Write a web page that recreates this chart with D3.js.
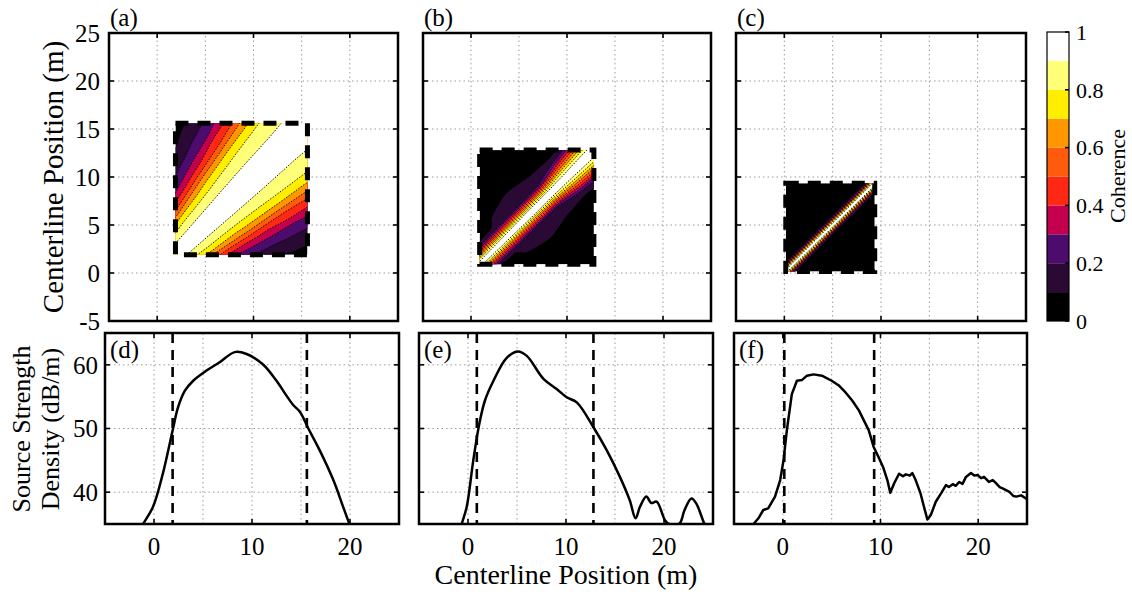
<!DOCTYPE html>
<head>
  <meta charset="utf-8">
</head>
<style>

body {
  margin: 0;
  background: #fff;
}

svg, text {
  font-family: "Liberation Serif", "Times New Roman", "DejaVu Serif", serif;
  fill: #000;
}

.grid line {
  stroke: #9a9a9a;
  stroke-width: 1;
  stroke-dasharray: 1.5,3;
}

.frame {
  fill: none;
  stroke: #000;
  stroke-width: 2.5;
}

.tick {
  stroke: #000;
  stroke-width: 1.6;
}

</style>
<body>
<script src="https://d3js.org/d3.v7.min.js"></script>
<script>
var width = 1132,
    height = 597;

// coherence contour levels and the colour of each band (0-0.1 ... 0.9-1)
var cohLevels = [0.1, 0.2, 0.3, 0.4, 0.5, 0.6, 0.7, 0.8, 0.9];
var cohColors = ["#000000", "#2a0a35", "#4c0b6d", "#c3004e", "#ff2814",
                 "#ff5b0c", "#ff9800", "#ffee00", "#ffff78", "#ffffff"];
var cbTicks = [0, 0.2, 0.4, 0.6, 0.8, 1];

// axes
var posDomain = [-5, 25];
var ssdDomain = [35, 65];
var xTickVals = [0, 10, 20];
var xGridVals = [0, 5, 10, 15, 20];
var mapYTicks = [-5, 0, 5, 10, 15, 20, 25];
var mapYGrid = [0, 5, 10, 15, 20];
var ssdYTicks = [40, 50, 60];

// source region limits (m) for each column
var regionA = [1.9, 15.6];
var regionB = [0.9, 12.8];
var regionC = [0.15, 9.35];

// coherence tables: rows = mean position of the two points,
// columns = separation between them (matrix is symmetric about the diagonal)
var sepA = [0, 1, 2, 3, 4, 5, 6, 7, 8, 9, 10, 11, 12, 13, 14];
var meanA = [1, 4, 7, 10, 13, 16];
var cohA = [
  [1, 0.90, 0.77, 0.53, 0.31, 0.18, 0.09, 0.04, 0.02, 0.01, 0.01, 0.01, 0.01, 0.01, 0.01],
  [1, 0.93, 0.85, 0.76, 0.59, 0.42, 0.28, 0.19, 0.12, 0.07, 0.04, 0.03, 0.02, 0.02, 0.02],
  [1, 0.94, 0.89, 0.82, 0.74, 0.62, 0.47, 0.35, 0.26, 0.19, 0.14, 0.09, 0.06, 0.04, 0.03],
  [1, 0.96, 0.91, 0.86, 0.81, 0.74, 0.63, 0.50, 0.42, 0.31, 0.25, 0.19, 0.15, 0.11, 0.08],
  [1, 0.96, 0.92, 0.88, 0.84, 0.80, 0.73, 0.65, 0.54, 0.45, 0.38, 0.29, 0.24, 0.19, 0.16],
  [1, 0.97, 0.93, 0.90, 0.87, 0.83, 0.79, 0.74, 0.67, 0.58, 0.49, 0.42, 0.35, 0.28, 0.24]
];

var sepB = [0, 0.5, 1, 1.5, 2, 2.5, 3, 3.5, 4, 4.5, 5, 5.5, 6];
var meanB = [0, 2, 4, 6, 8, 10, 12, 14];
var cohB = [
  [1, 0.80, 0.50, 0.25, 0.10, 0.05, 0.03, 0.02, 0.02, 0.02, 0.02, 0.02, 0.02],
  [1, 0.86, 0.60, 0.35, 0.16, 0.08, 0.05, 0.04, 0.03, 0.03, 0.02, 0.02, 0.02],
  [1, 0.88, 0.64, 0.40, 0.20, 0.11, 0.11, 0.105, 0.09, 0.07, 0.05, 0.04, 0.03],
  [1, 0.90, 0.66, 0.42, 0.20, 0.13, 0.14, 0.14, 0.13, 0.11, 0.08, 0.05, 0.04],
  [1, 0.90, 0.68, 0.45, 0.22, 0.12, 0.12, 0.11, 0.10, 0.08, 0.06, 0.04, 0.03],
  [1, 0.92, 0.80, 0.64, 0.48, 0.32, 0.20, 0.12, 0.08, 0.05, 0.04, 0.03, 0.02],
  [1, 0.94, 0.85, 0.72, 0.58, 0.44, 0.30, 0.18, 0.12, 0.08, 0.05, 0.03, 0.02],
  [1, 0.95, 0.87, 0.75, 0.62, 0.48, 0.34, 0.22, 0.14, 0.09, 0.06, 0.04, 0.03]
];

var sepC = [0, 0.25, 0.5, 0.75, 1, 1.25, 1.5];
var meanC = [-1, 1, 3, 5, 7, 9, 11];
var cohC = [
  [1, 0.86, 0.58, 0.27, 0.09, 0.03, 0.01],
  [1, 0.87, 0.60, 0.29, 0.10, 0.03, 0.01],
  [1, 0.88, 0.62, 0.30, 0.10, 0.03, 0.01],
  [1, 0.88, 0.62, 0.30, 0.10, 0.03, 0.01],
  [1, 0.88, 0.63, 0.31, 0.11, 0.03, 0.01],
  [1, 0.89, 0.64, 0.32, 0.12, 0.04, 0.01],
  [1, 0.89, 0.64, 0.32, 0.12, 0.04, 0.01]
];

// source strength density (dB/m) along the centerline
var posD = [-1.6, -1.1, -0.1, 0.9, 1.9, 2.45, 3.14, 4.0, 5.36, 6.7, 8.25, 9.45, 11.1, 12.5, 13.5, 14.2, 14.9, 15.75, 16.9, 18.3, 19.3, 19.95, 20.4];
var ssdD = [33.5, 35, 37.7, 42.9, 49.7, 53.3, 55.9, 57.5, 59.1, 60.4, 62.0, 61.7, 60.1, 57.5, 55.2, 53.7, 52.6, 50.0, 46.6, 41.9, 37.7, 35, 33.5];

var posE = [-0.9, -0.64, -0.13, 0.54, 1.15, 1.73, 2.6, 3.95, 5.1, 6.0, 7.7, 9.05, 10.07, 11.1, 12.8, 14.15, 15.5, 16.5, 17.1, 17.55, 18.2, 18.7, 19.25, 20.1, 20.5, 21.0, 21.6, 22.1, 22.8, 23.3, 24.1, 24.5];
var ssdE = [33.5, 35, 37.7, 45.0, 50.7, 54.4, 57.5, 61.1, 62.1, 61.4, 57.8, 56.2, 54.9, 54.1, 50.2, 46.6, 42.4, 38.75, 35.9, 37.7, 39.3, 38.3, 38.5, 35.6, 35.0, 34.9, 35.1, 37.2, 39.0, 38.2, 35.1, 34];

var posF = [-3.3, -3.0, -2.5, -2.0, -1.5, -0.8, -0.27, 0.07, 0.41, 0.92, 1.44, 1.95, 2.47, 3.15, 4.0, 5.0, 5.7, 6.4, 7.1, 7.8, 8.8, 9.3, 9.8, 10.25, 10.7, 11.0, 11.4, 11.9, 12.3, 12.6, 13.0, 13.26, 13.6, 14.1, 14.45, 14.8, 15.15, 15.66, 16.2, 16.7, 17.0, 17.4, 17.7, 18.05, 18.4, 18.75, 19.26, 19.6, 19.94, 20.3, 20.6, 21.1, 21.5, 21.8, 22.2, 22.5, 23.2, 23.6, 23.9, 24.4, 24.9, 25.2];
var ssdF = [34.5, 35, 35.9, 37.2, 37.45, 39.3, 41.9, 45.0, 49.7, 55.4, 57.5, 57.6, 58.3, 58.5, 58.3, 57.5, 56.8, 55.7, 54.4, 52.8, 49.7, 47.1, 45.5, 44.0, 41.9, 39.9, 41.4, 42.9, 42.5, 42.8, 42.6, 43.0, 41.9, 39.8, 37.7, 35.7, 36.4, 38.5, 39.8, 41.1, 40.8, 41.25, 41.0, 41.6, 41.3, 42.4, 43.0, 42.6, 42.7, 42.2, 42.4, 41.6, 41.9, 41.45, 40.8, 40.6, 40.05, 39.4, 39.3, 39.5, 39.0, 38.8];

var svg = d3.select("body").append("svg")
  .attr("width", width)
  .attr("height", height)
  .attr("font-family", "'Liberation Serif', 'Times New Roman', serif");

var mapY = d3.scaleLinear().domain(posDomain).range([321, 33]);
var ssdY = d3.scaleLinear().domain(ssdDomain).range([524, 333]);

var maps = [
  {id: "a", x0: 109, x1: 398, region: regionA, sep: sepA, mean: meanA, coh: cohA, yLabels: true},
  {id: "b", x0: 423, x1: 711, region: regionB, sep: sepB, mean: meanB, coh: cohB, yLabels: false},
  {id: "c", x0: 736, x1: 1026, region: regionC, sep: sepC, mean: meanC, coh: cohC, yLabels: false}
];

var curves = [
  {id: "d", x0: 105, x1: 399, region: regionA, pos: posD, ssd: ssdD, curve: d3.curveCatmullRom, yLabels: true},
  {id: "e", x0: 419, x1: 713, region: regionB, pos: posE, ssd: ssdE, curve: d3.curveCatmullRom, yLabels: false},
  {id: "f", x0: 734, x1: 1027, region: regionC, pos: posF, ssd: ssdF, curve: d3.curveLinear, yLabels: false}
];

maps.forEach(drawMap);
curves.forEach(drawCurve);
drawColorbar();

// shared labels
svg.append("text")
  .attr("transform", "translate(63,177) rotate(-90)")
  .attr("text-anchor", "middle")
  .attr("font-size", 29)
  .text("Centerline Position (m)");

svg.append("text")
  .attr("transform", "translate(30,429) rotate(-90)")
  .attr("text-anchor", "middle")
  .attr("font-size", 26)
  .text("Source Strength");

svg.append("text")
  .attr("transform", "translate(59,429) rotate(-90)")
  .attr("text-anchor", "middle")
  .attr("font-size", 26)
  .text("Density (dB/m)");

svg.append("text")
  .attr("x", 566)
  .attr("y", 584)
  .attr("text-anchor", "middle")
  .attr("font-size", 28)
  .text("Centerline Position (m)");


function drawFrame(g, x, y, xTicks, yTicks) {
  var r = x.range(), t = y.range();
  var tl = 5;
  xTicks.forEach(function(v) {
    g.append("line").attr("class", "tick")
      .attr("x1", x(v)).attr("x2", x(v)).attr("y1", t[0]).attr("y2", t[0] - tl);
    g.append("line").attr("class", "tick")
      .attr("x1", x(v)).attr("x2", x(v)).attr("y1", t[1]).attr("y2", t[1] + tl);
  });
  yTicks.forEach(function(v) {
    g.append("line").attr("class", "tick")
      .attr("x1", r[0]).attr("x2", r[0] + tl).attr("y1", y(v)).attr("y2", y(v));
    g.append("line").attr("class", "tick")
      .attr("x1", r[1]).attr("x2", r[1] - tl).attr("y1", y(v)).attr("y2", y(v));
  });
  g.append("rect").attr("class", "frame")
    .attr("x", r[0]).attr("y", t[1])
    .attr("width", r[1] - r[0]).attr("height", t[0] - t[1]);
}

function drawGrid(g, x, y, xs, ys) {
  var r = x.range(), t = y.range();
  var gg = g.append("g").attr("class", "grid");
  gg.selectAll(".gx").data(xs).enter().append("line")
    .attr("x1", function(d) { return x(d); }).attr("x2", function(d) { return x(d); })
    .attr("y1", t[0]).attr("y2", t[1]);
  gg.selectAll(".gy").data(ys).enter().append("line")
    .attr("x1", r[0]).attr("x2", r[1])
    .attr("y1", function(d) { return y(d); }).attr("y2", function(d) { return y(d); });
}

function drawMap(p) {
  var x = d3.scaleLinear().domain(posDomain).range([p.x0, p.x1]);
  var y = mapY;
  var g = svg.append("g");

  drawGrid(g, x, y, xGridVals, mapYGrid);

  var rx = x(p.region[0]), ry = y(p.region[1]);
  var rw = x(p.region[1]) - rx, rh = y(p.region[0]) - ry;

  g.append("clipPath").attr("id", "clip" + p.id)
    .append("rect").attr("x", rx).attr("y", ry).attr("width", rw).attr("height", rh);

  var mapG = g.append("g").attr("clip-path", "url(#clip" + p.id + ")");
  mapG.append("rect")
    .attr("x", rx).attr("y", ry).attr("width", rw).attr("height", rh)
    .attr("fill", cohColors[0]);

  // full grid in (separation, mean) space, mirrored about zero separation
  var ns = p.sep.length, nx = 2 * ns - 1, ny = p.mean.length;
  var values = [];
  for (var i = 0; i < ny; i++) {
    for (var j = 0; j < nx; j++) {
      values.push(p.coh[i][Math.abs(j - (ns - 1))]);
    }
  }
  var ds = p.sep[1] - p.sep[0], dm = p.mean[1] - p.mean[0];

  // grid coordinates -> (x1, x2) = (m - s/2, m + s/2) -> pixels
  var proj = d3.geoTransform({
    point: function(u, v) {
      var s = (u - 0.5 - (ns - 1)) * ds;
      var m = p.mean[0] + (v - 0.5) * dm;
      this.stream.point(x(m - s / 2), y(m + s / 2));
    }
  });
  var path = d3.geoPath(proj);

  var bands = d3.contours().size([nx, ny]).thresholds(cohLevels)(values);

  mapG.selectAll(".band").data(bands).enter().append("path")
    .attr("d", path)
    .attr("fill", function(d, i) { return cohColors[i + 1]; });

  mapG.selectAll(".cline").data(bands).enter().append("path")
    .attr("d", path)
    .attr("fill", "none")
    .attr("stroke", "#000")
    .attr("stroke-width", 0.9)
    .attr("stroke-dasharray", "1.5,1.5");

  // dashed outline of the source region
  g.append("rect")
    .attr("x", rx).attr("y", ry).attr("width", rw).attr("height", rh)
    .attr("fill", "none")
    .attr("stroke", "#000")
    .attr("stroke-width", 5)
    .attr("stroke-dasharray", "13,9");

  drawFrame(g, x, y, xTickVals, mapYTicks);

  if (p.yLabels) {
    g.selectAll(".ylab").data(mapYTicks).enter().append("text")
      .attr("x", p.x0 - 9)
      .attr("y", function(d) { return y(d); })
      .attr("dy", "0.35em")
      .attr("text-anchor", "end")
      .attr("font-size", 25)
      .text(function(d) { return d; });
  }

  g.append("text")
    .attr("x", p.x0 + 1)
    .attr("y", 26)
    .attr("font-size", 25)
    .text("(" + p.id + ")");
}

function drawCurve(p) {
  var x = d3.scaleLinear().domain(posDomain).range([p.x0, p.x1]);
  var y = ssdY;
  var g = svg.append("g");

  drawGrid(g, x, y, xGridVals, ssdYTicks);

  g.append("clipPath").attr("id", "clip" + p.id)
    .append("rect").attr("x", p.x0).attr("y", 333)
    .attr("width", p.x1 - p.x0).attr("height", 524 - 333);

  var plotG = g.append("g").attr("clip-path", "url(#clip" + p.id + ")");

  plotG.selectAll(".edge").data(p.region).enter().append("line")
    .attr("x1", function(d) { return x(d); }).attr("x2", function(d) { return x(d); })
    .attr("y1", 333).attr("y2", 524)
    .attr("stroke", "#000")
    .attr("stroke-width", 2.6)
    .attr("stroke-dasharray", "10,7");

  var line = d3.line()
    .x(function(d) { return x(d[0]); })
    .y(function(d) { return y(d[1]); })
    .curve(p.curve);

  plotG.append("path")
    .datum(d3.zip(p.pos, p.ssd))
    .attr("d", line)
    .attr("fill", "none")
    .attr("stroke", "#000")
    .attr("stroke-width", 2.5)
    .attr("stroke-linejoin", "round");

  drawFrame(g, x, y, xTickVals, ssdYTicks);

  g.selectAll(".xlab").data(xTickVals).enter().append("text")
    .attr("x", function(d) { return x(d); })
    .attr("y", 555)
    .attr("text-anchor", "middle")
    .attr("font-size", 25)
    .text(function(d) { return d; });

  if (p.yLabels) {
    g.selectAll(".ylab").data(ssdYTicks).enter().append("text")
      .attr("x", p.x0 - 7)
      .attr("y", function(d) { return y(d); })
      .attr("dy", "0.35em")
      .attr("text-anchor", "end")
      .attr("font-size", 25)
      .text(function(d) { return d; });
  }

  g.append("text")
    .attr("x", p.x0 + 5)
    .attr("y", 358)
    .attr("font-size", 25)
    .text("(" + p.id + ")");
}

function drawColorbar() {
  var cb = d3.scaleLinear().domain([0, 1]).range([321, 32]);
  var cx0 = 1047, cw = 22;
  var g = svg.append("g");
  var edges = [0].concat(cohLevels).concat([1]);

  g.selectAll(".cb").data(cohColors).enter().append("rect")
    .attr("x", cx0)
    .attr("y", function(d, i) { return cb(edges[i + 1]); })
    .attr("width", cw)
    .attr("height", function(d, i) { return cb(edges[i]) - cb(edges[i + 1]); })
    .attr("fill", function(d) { return d; });

  g.selectAll(".cbt").data(cbTicks).enter().append("line")
    .attr("class", "tick")
    .attr("x1", cx0 + cw).attr("x2", cx0 + cw - 4)
    .attr("y1", function(d) { return cb(d); }).attr("y2", function(d) { return cb(d); });

  g.append("rect")
    .attr("x", cx0).attr("y", 32).attr("width", cw).attr("height", 321 - 32)
    .attr("fill", "none").attr("stroke", "#000").attr("stroke-width", 1.2);

  g.selectAll(".cbl").data(cbTicks).enter().append("text")
    .attr("x", cx0 + cw + 7)
    .attr("y", function(d) { return cb(d); })
    .attr("dy", "0.35em")
    .attr("font-size", 22)
    .text(function(d) { return d; });

  g.append("text")
    .attr("transform", "translate(1125,176) rotate(-90)")
    .attr("text-anchor", "middle")
    .attr("font-size", 22)
    .text("Coherence");
}
</script>
